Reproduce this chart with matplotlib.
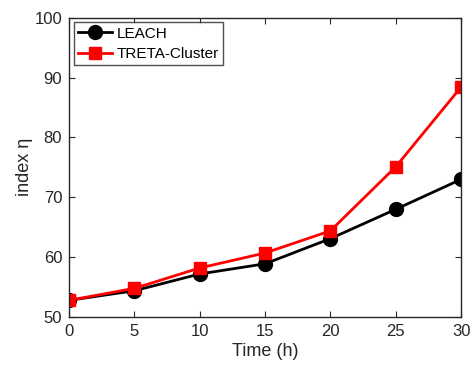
import matplotlib
matplotlib.use("Agg")
import matplotlib.pyplot as plt

plt.rcParams['font.family'] = ['Liberation Sans', 'DejaVu Sans']

time_h = [0, 5, 10, 15, 20, 25, 30]
leach = [52.8, 54.4, 57.2, 58.9, 63.1, 68.0, 73.0]
treta = [52.8, 54.8, 58.2, 60.7, 64.4, 75.1, 88.4]

fig = plt.figure(figsize=(4.70, 3.67), dpi=100)
ax = fig.add_axes([0.147, 0.136, 0.834, 0.816])

ax.plot(time_h, leach, color='black', lw=2, marker='o', ms=10, label='LEACH')
ax.plot(time_h, treta, color='red', lw=2, marker='s', ms=8, label='TRETA-Cluster')

ax.set_xlim(0, 30)
ax.set_ylim(50, 100)
ax.set_xticks([0, 5, 10, 15, 20, 25, 30])
ax.set_yticks([50, 60, 70, 80, 90, 100])
ax.tick_params(direction='in', top=True, right=True, labelsize=12, colors='#262626',
               length=4, pad=5)
for s in ax.spines.values():
    s.set_color('#262626')
    s.set_linewidth(1)
ax.set_xlabel('Time (h)', fontsize=13, color='#262626', labelpad=3)
ax.set_ylabel('index η', fontsize=13, color='#262626', labelpad=1)

leg = ax.legend(loc='upper left', fontsize=11, fancybox=False, edgecolor='#262626',
                borderaxespad=0.3, handlelength=2.2, handletextpad=0.3,
                borderpad=0.3, labelspacing=0.4)
leg.get_frame().set_linewidth(1)

fig.savefig('out.png', dpi=100)
